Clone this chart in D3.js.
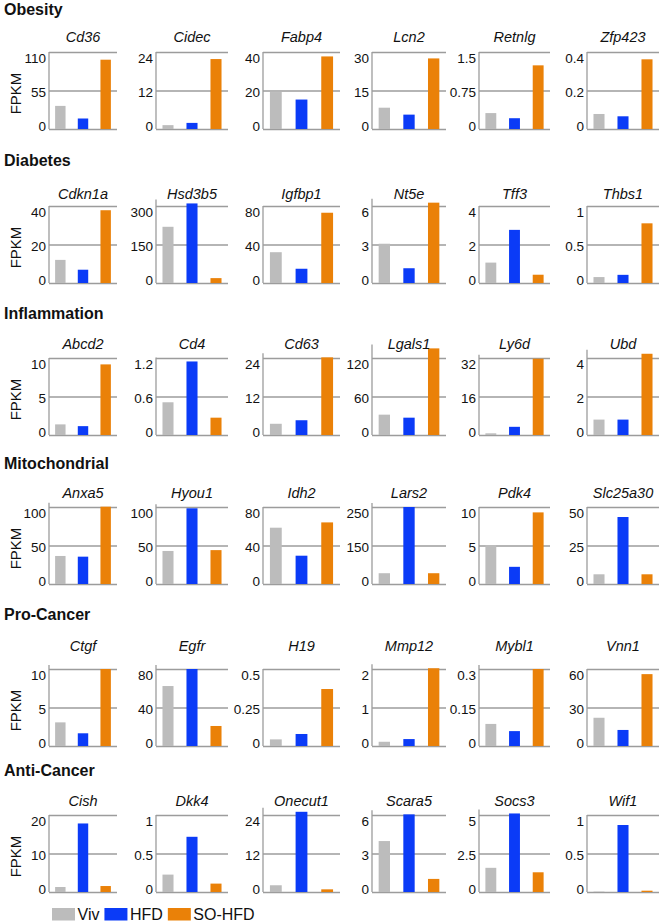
<!DOCTYPE html>
<html><head><meta charset="utf-8">
<script src="https://cdn.jsdelivr.net/npm/d3@7"></script>
<style>body{margin:0;background:#fff} svg{display:block;font-family:"Liberation Sans",Arial,sans-serif}</style>
</head><body><svg id="c" width="666" height="924"></svg>
<script>
const groups = ["Obesity","Diabetes","Inflammation","Mitochondrial","Pro-Cancer","Anti-Cancer"];
const series = ["Viv","HFD","SO-HFD"];
const genes = [
  ["Cd36","Cidec","Fabp4","Lcn2","Retnlg","Zfp423"],
  ["Cdkn1a","Hsd3b5","Igfbp1","Nt5e","Tff3","Thbs1"],
  ["Abcd2","Cd4","Cd63","Lgals1","Ly6d","Ubd"],
  ["Anxa5","Hyou1","Idh2","Lars2","Pdk4","Slc25a30"],
  ["Ctgf","Egfr","H19","Mmp12","Mybl1","Vnn1"],
  ["Cish","Dkk4","Onecut1","Scara5","Socs3","Wif1"]
];
const viv = [
  [33, 1.2, 19.2, 8.3, 0.31, 0.078],
  [12, 219, 32, 3.06, 1.06, 0.077],
  [1.38, 0.51, 3.5, 31.7, 0.7, 0.8],
  [36.4, 42.9, 58.5, 42, 5.06, 6.3],
  [3.07, 62.3, 0.043, 0.11, 0.086, 22],
  [1.3, 0.226, 2.1, 3.97, 1.57, 0.005]
];
const hfd = [
  [15, 1.9, 15.3, 5.6, 0.21, 0.066],
  [6.9, 310, 14.8, 1.15, 2.76, 0.106],
  [1.15, 1.146, 4.6, 27, 3.4, 0.8],
  [35.5, 98.3, 29.4, 300, 2.23, 43.5],
  [1.65, 80, 0.078, 0.18, 0.058, 12.5],
  [17.8, 0.717, 25, 6.05, 5.1, 0.87]
];
const sohfd = [
  [99, 21.8, 37.7, 27.5, 1.24, 0.362],
  [37.8, 19, 73, 6.26, 0.43, 0.775],
  [9.17, 0.27, 24.2, 135, 31.7, 4.22],
  [100.4, 44, 64, 42, 9.3, 6.3],
  [10.0, 20.8, 0.37, 2.02, 0.3, 56],
  [1.55, 0.109, 0.83, 1.02, 1.28, 0.017]
];
const tickTop = [
  [110, 24, 40, 30, 1.5, 0.4],
  [40, 300, 80, 6, 4, 1],
  [10, 1.2, 24, 120, 32, 4],
  [100, 100, 80, 300, 10, 50],
  [10, 80, 0.5, 2, 0.3, 60],
  [20, 1, 24, 6, 5, 1]
];
const tickLabels = [
  [["0","55","110"],["0","12","24"],["0","20","40"],["0","15","30"],["0","0.75","1.5"],["0","0.2","0.4"]],
  [["0","20","40"],["0","150","300"],["0","40","80"],["0","3","6"],["0","2","4"],["0","0.5","1"]],
  [["0","5","10"],["0","0.6","1.2"],["0","12","24"],["0","60","120"],["0","16","32"],["0","2","4"]],
  [["0","50","100"],["0","50","100"],["0","40","80"],["0","150","250"],["0","5","10"],["0","25","50"]],
  [["0","5","10"],["0","40","80"],["0","0.25","0.5"],["0","1","2"],["0","0.15","0.3"],["0","30","60"]],
  [["0","10","20"],["0","0.5","1"],["0","12","24"],["0","3","6"],["0","2.5","5"],["0","0.5","1"]]
];

// layout
const colLeft = [49, 156, 263, 372, 479, 587];
const colWidth = [68, 72, 77, 74, 71, 72];
const rowBase = [129, 283, 435, 584, 746, 892];
const plotH = 77;
const sectionY = [15, 166, 319, 469, 620, 776];
const geneY = [41.5, 199, 349, 498, 651, 806];
const colors = ["#bcbcbc", "#0b3bf7", "#ea8108"];
const lineColor = "#9c9c9c";
const labelDy = [-3, 1, 6];

const svg = d3.select("#c");

groups.forEach((grp, r) => {
  svg.append("text").attr("x", 4).attr("y", sectionY[r])
    .attr("font-weight", "bold").attr("font-size", 16).attr("fill", "#111").text(grp);
  svg.append("text")
    .attr("transform", `translate(20.5,${rowBase[r] - plotH / 2 + 3}) rotate(-90)`)
    .attr("text-anchor", "middle").attr("font-size", 15).attr("fill", "#111").text("FPKM");

  genes[r].forEach((gene, c) => {
    const x0 = colLeft[c], w = colWidth[c];
    const vals = [viv[r][c], hfd[r][c], sohfd[r][c]];
    const top = tickTop[r][c];
    const y = d3.scaleLinear().domain([0, top]).range([rowBase[r], rowBase[r] - plotH]);
    const x = d3.scaleBand().domain(series).range([x0, x0 + w]).paddingInner(0.54).paddingOuter(0.27);
    const labels = tickLabels[r][c];
    const g = svg.append("g");

    const axis = d3.axisLeft(y).tickValues([0, top / 2, top]).tickSize(-w).tickPadding(3)
      .tickFormat((d, i) => labels[i]);
    const ga = g.append("g").attr("transform", `translate(${x0},0)`).call(axis);
    ga.select(".domain").remove();
    ga.selectAll(".tick line").attr("stroke", lineColor).attr("stroke-width", 1.3);
    ga.selectAll(".tick text").attr("font-size", 13.5).attr("fill", "#111")
      .attr("font-family", '"Liberation Sans",Arial,sans-serif')
      .attr("dy", (d, i) => (labelDy[i] + 4.7) + "px");

    const maxV = d3.max(vals);
    const axisTop = Math.min(y(top), y(maxV) - 4);
    g.append("line").attr("x1", x0).attr("x2", x0)
      .attr("y1", rowBase[r]).attr("y2", axisTop)
      .attr("stroke", lineColor).attr("stroke-width", 1.3);

    g.selectAll("rect.bar").data(vals).join("rect").attr("class", "bar")
      .attr("x", (d, i) => x(series[i]))
      .attr("width", x.bandwidth())
      .attr("y", d => y(d))
      .attr("height", d => rowBase[r] - y(d))
      .attr("fill", (d, i) => colors[i]);

    svg.append("text").attr("x", x0 + w / 2).attr("y", geneY[r])
      .attr("text-anchor", "middle").attr("font-style", "italic")
      .attr("font-size", 14.5).attr("fill", "#111").text(gene);
  });
});

// legend
let lx = 52;
series.forEach((s, i) => {
  svg.append("rect").attr("x", lx).attr("y", 908).attr("width", 23).attr("height", 12.5).attr("fill", colors[i]);
  const t = svg.append("text").attr("x", lx + 25.5).attr("y", 919.5).attr("font-size", 16).attr("fill", "#111").text(s);
  lx += 25.5 + t.node().getComputedTextLength() + 5;
});
</script></body></html>
